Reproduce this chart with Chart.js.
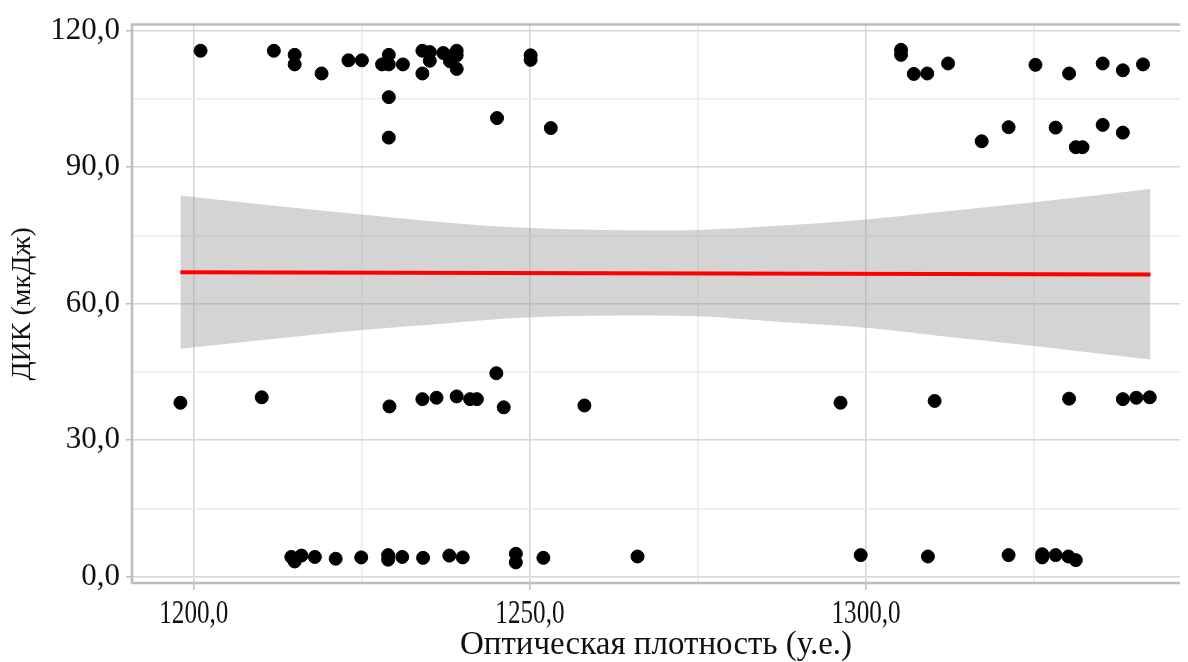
<!DOCTYPE html>
<html>
<head>
<meta charset="utf-8">
<script src="https://cdn.jsdelivr.net/npm/chart.js@4/dist/chart.umd.min.js"></script>
<style>
  html, body { margin: 0; padding: 0; background: #fff; }
  #wrap { width: 1188px; height: 662px; position: relative; }
</style>
</head>
<body>
<div id="wrap"><canvas id="dikChart"></canvas></div>
<script>
// Оптическая плотность (у.е.) и ДИК (мкДж) for every measurement
const opticalDensity = [
  1201.0, 1211.9, 1215.0, 1215.0, 1219.0, 1223.0, 1225.0, 1228.0, 1229.0, 1229.0,
  1231.1, 1234.0, 1234.0, 1229.0, 1229.0, 1235.1, 1235.1, 1237.1, 1238.1, 1239.1,
  1239.1, 1238.1, 1239.1, 1250.1, 1250.1, 1245.1, 1253.1,
  1305.2, 1305.2, 1307.1, 1309.1, 1312.2, 1325.2, 1330.2, 1335.2, 1338.2, 1341.2,
  1317.2, 1321.2, 1328.2, 1331.2, 1332.2, 1335.2, 1338.2,
  1198.0, 1210.1, 1229.1, 1234.0, 1236.1, 1239.1, 1241.1, 1242.1, 1245.0, 1246.1,
  1258.1, 1296.2, 1310.2, 1330.2, 1338.2, 1340.2, 1342.2,
  1214.5, 1215.0, 1216.0, 1218.0, 1221.1, 1224.9, 1228.9, 1228.9, 1231.0, 1234.1,
  1238.0, 1240.0, 1247.9, 1247.9, 1252.0, 1266.0,
  1299.2, 1309.2, 1321.2, 1326.2, 1326.2, 1328.2, 1330.1, 1331.2
];
const dikValues = [
  115.6, 115.6, 114.7, 112.6, 110.6, 113.5, 113.5, 112.6, 114.7, 112.6,
  112.6, 115.6, 110.6, 105.4, 96.5, 115.3, 113.4, 115.1, 114.4, 115.6,
  114.6, 113.3, 111.6, 114.6, 113.6, 100.8, 98.6,
  115.8, 114.7, 110.5, 110.6, 112.8, 112.5, 110.6, 112.8, 111.3, 112.6,
  95.7, 98.8, 98.7, 94.4, 94.4, 99.3, 97.6,
  38.2, 39.4, 37.4, 39.0, 39.3, 39.6, 39.0, 39.0, 44.7, 37.2,
  37.6, 38.2, 38.6, 39.1, 39.0, 39.3, 39.4,
  4.3, 3.3, 4.6, 4.3, 3.9, 4.2, 4.7, 3.7, 4.3, 4.1,
  4.6, 4.2, 5.0, 3.1, 4.1, 4.4,
  4.7, 4.4, 4.7, 4.9, 4.2, 4.7, 4.4, 3.6
];

// linear fit and its confidence band
const fitX = [1198.0, 1342.3];
const fitY = [66.9, 66.4];
const bandX = [1198, 1212, 1225, 1237, 1250, 1268, 1275, 1287, 1300, 1312, 1325, 1342.3];
const bandUpper = [83.8, 81.5, 79.6, 77.9, 76.6, 76.1, 76.2, 77.1, 78.5, 80.3, 82.3, 85.2];
const bandLower = [50.1, 52.3, 54.2, 55.6, 57.0, 57.4, 57.2, 56.0, 54.7, 52.7, 50.7, 47.7];

// axis ticks: every value gets a grid line, only the major ones get a label
const xTicks = [1200, 1225, 1250, 1275, 1300, 1325];
const xMajor = [1200, 1250, 1300];
const yTicks = [0, 15, 30, 45, 60, 75, 90, 105, 120];
const yMajor = [0, 30, 60, 90, 120];

const toPts = (xs, ys) => xs.map((x, i) => ({ x: x, y: ys[i] }));
const fmt = v => v.toFixed(1).replace('.', ',');
const serif = 'Liberation Serif';

// grey frame on the left, top and bottom of the plot area
const frame = {
  id: 'frame',
  afterDraw(chart) {
    const a = chart.chartArea, ctx = chart.ctx;
    ctx.save();
    ctx.strokeStyle = '#bdbdbd';
    ctx.lineWidth = 2.5;
    ctx.beginPath();
    ctx.moveTo(a.right, a.top);
    ctx.lineTo(a.left, a.top);
    ctx.lineTo(a.left, a.bottom);
    ctx.lineTo(a.right, a.bottom);
    ctx.stroke();
    ctx.restore();
  }
};

// x tick labels are set in a narrow (horizontally squeezed) serif
const narrowXLabels = {
  id: 'narrowXLabels',
  afterDraw(chart) {
    const sx = chart.scales.x, ctx = chart.ctx;
    ctx.save();
    ctx.fillStyle = '#111';
    ctx.font = '34px "Liberation Serif"';
    ctx.textAlign = 'center';
    ctx.textBaseline = 'top';
    sx.ticks.forEach(t => {
      if (!xMajor.includes(t.value)) return;
      ctx.save();
      ctx.translate(sx.getPixelForValue(t.value), sx.top + 14);
      ctx.scale(0.74, 1);
      ctx.fillText(fmt(t.value), 0, 0);
      ctx.restore();
    });
    ctx.restore();
  }
};

const ctx = document.getElementById('dikChart').getContext('2d');
new Chart(ctx, {
  type: 'scatter',
  data: {
    datasets: [
      {
        type: 'line',
        data: toPts(bandX, bandUpper),
        borderWidth: 0,
        pointRadius: 0,
        cubicInterpolationMode: 'monotone',
        backgroundColor: 'rgba(160,160,160,0.45)',
        fill: '+1',
        order: 3
      },
      {
        type: 'line',
        data: toPts(bandX, bandLower),
        borderWidth: 0,
        pointRadius: 0,
        cubicInterpolationMode: 'monotone',
        fill: false,
        order: 3
      },
      {
        type: 'line',
        data: toPts(fitX, fitY),
        borderColor: '#ff0000',
        borderWidth: 4,
        pointRadius: 0,
        fill: false,
        order: 2
      },
      {
        data: toPts(opticalDensity, dikValues),
        backgroundColor: '#000',
        borderColor: '#000',
        pointRadius: 6.5,
        order: 1
      }
    ]
  },
  options: {
    responsive: true,
    maintainAspectRatio: false,
    animation: false,
    layout: { padding: { top: 24, right: 8, left: 0, bottom: 0 } },
    plugins: { legend: { display: false }, tooltip: { enabled: false } },
    scales: {
      x: {
        type: 'linear',
        min: 1190.8,
        max: 1346.7,
        afterBuildTicks: s => { s.ticks = xTicks.map(v => ({ value: v })); },
        afterFit: s => { s.height = 79; },
        border: { display: false },
        grid: {
          color: c => xMajor.includes(c.tick.value) ? '#d6d6d6' : '#ececec',
          tickColor: c => xMajor.includes(c.tick.value) ? '#bdbdbd' : 'rgba(0,0,0,0)',
          tickLength: 7,
          lineWidth: 1.5
        },
        ticks: {
          autoSkip: false,
          maxRotation: 0,
          padding: 6,
          color: 'rgba(0,0,0,0)',
          font: { family: serif, size: 31 },
          callback: v => xMajor.includes(v) ? fmt(v) : ''
        },
        title: {
          display: true,
          text: 'Оптическая плотность (у.е.)',
          color: '#111',
          font: { family: serif, size: 33, lineHeight: 1 },
          padding: { top: 0, bottom: 0 }
        }
      },
      y: {
        type: 'linear',
        min: -1.43,
        max: 121.35,
        afterBuildTicks: s => { s.ticks = yTicks.map(v => ({ value: v })); },
        afterFit: s => { s.width = 132; },
        border: { display: false },
        grid: {
          color: c => yMajor.includes(c.tick.value) ? '#d6d6d6' : '#ececec',
          tickColor: c => yMajor.includes(c.tick.value) ? '#bdbdbd' : 'rgba(0,0,0,0)',
          tickLength: 6,
          lineWidth: 1.5
        },
        ticks: {
          autoSkip: false,
          padding: 6,
          color: '#111',
          font: { family: serif, size: 31 },
          callback: v => yMajor.includes(v) ? fmt(v) : ''
        },
        title: {
          display: true,
          text: 'ДИК (мкДж)',
          color: '#111',
          font: { family: serif, size: 28 },
          padding: { top: 6, bottom: 0 }
        }
      }
    }
  },
  plugins: [frame, narrowXLabels]
});
</script>
</body>
</html>
